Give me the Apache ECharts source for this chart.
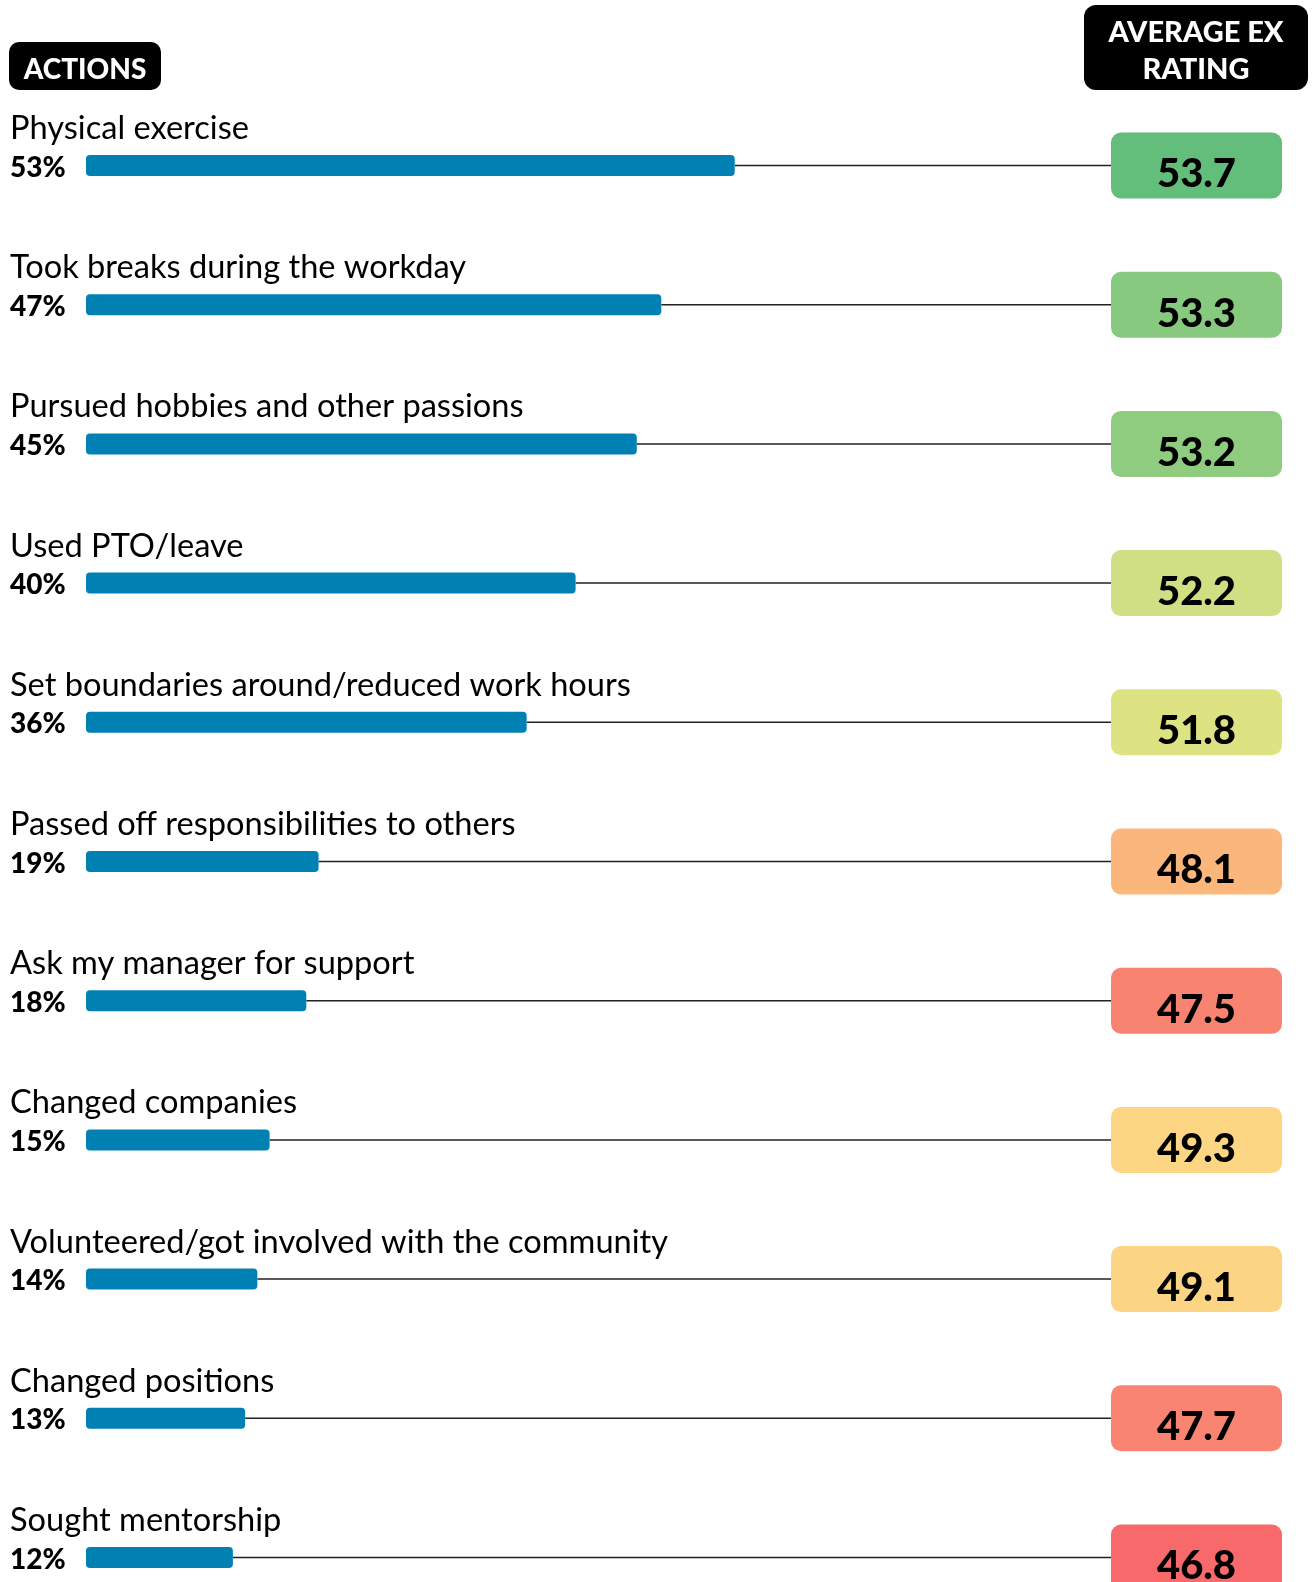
<!DOCTYPE html>
<html>
<head>
<meta charset="utf-8">
<script src="https://cdn.jsdelivr.net/npm/echarts@6/dist/echarts.min.js"></script>
<style>
  html, body { margin: 0; padding: 0; background: #ffffff; }
  #chart { width: 1315px; height: 1582px; }
</style>
</head>
<body>
<div id="chart"></div>
<script>
const categories = [
  'Physical exercise',
  'Took breaks during the workday',
  'Pursued hobbies and other passions',
  'Used PTO/leave',
  'Set boundaries around/reduced work hours',
  'Passed off responsibilities to others',
  'Ask my manager for support',
  'Changed companies',
  'Volunteered/got involved with the community',
  'Changed positions',
  'Sought mentorship'
];
const percentages = [53, 47, 45, 40, 36, 19, 18, 15, 14, 13, 12];
const ratings = [53.7, 53.3, 53.2, 52.2, 51.8, 48.1, 47.5, 49.3, 49.1, 47.7, 46.8];
const ratingColors = ['#63BE7B', '#86C97F', '#8FCC80', '#D0DF83', '#DDE283', '#FBB77B',
                      '#F98371', '#FCD683', '#FCD584', '#F98471', '#F8696B'];

const FONT = 'Lato, "Noto Sans", sans-serif';
const BOX_LEFT = 1111, BOX_W = 171, BOX_H = 66;

const chart = echarts.init(document.getElementById('chart'), null, { renderer: 'canvas' });

const customData = categories.map((c, i) => [percentages[i], i, ratings[i]]);

const option = {
  backgroundColor: '#ffffff',
  animation: false,
  grid: { left: 86, top: 165.5, width: 1224, height: 1392, containLabel: false },
  xAxis: {
    type: 'value', min: 0, max: 100,
    show: false
  },
  yAxis: {
    type: 'category', data: categories, inverse: true, boundaryGap: false,
    show: false
  },
  graphic: [
    {
      type: 'rect', left: 9, top: 42, z: 100,
      shape: { width: 152, height: 48, r: 10 },
      style: { fill: '#000000' }
    },
    {
      type: 'text', z: 101, x: 85, y: 70,
      style: { text: 'ACTIONS', fill: '#ffffff', font: '900 28px ' + FONT, align: 'center', verticalAlign: 'middle' }
    },
    {
      type: 'rect', left: 1084, top: 5, z: 100,
      shape: { width: 224, height: 85, r: 12 },
      style: { fill: '#000000' }
    },
    {
      type: 'text', z: 101, x: 1196, y: 33,
      style: { text: 'AVERAGE EX', fill: '#ffffff', font: '900 29px ' + FONT, align: 'center', verticalAlign: 'middle' }
    },
    {
      type: 'text', z: 101, x: 1196, y: 70,
      style: { text: 'RATING', fill: '#ffffff', font: '900 29px ' + FONT, align: 'center', verticalAlign: 'middle' }
    }
  ],
  series: [
    {
      type: 'custom',
      clip: false,
      z: 1,
      data: customData,
      encode: { x: 0, y: 1 },
      renderItem: function (params, api) {
        const idx = api.value(1);
        const end = api.coord([api.value(0), idx]);
        const cy = end[1];
        const r = api.value(2);
        return {
          type: 'group',
          children: [
            {
              type: 'line',
              shape: { x1: end[0], y1: cy, x2: BOX_LEFT, y2: cy },
              style: { stroke: '#222222', lineWidth: 1.5 }
            },
            {
              type: 'rect',
              shape: { x: BOX_LEFT, y: cy - BOX_H / 2, width: BOX_W, height: BOX_H, r: 10 },
              style: { fill: ratingColors[idx] }
            },
            {
              type: 'text',
              x: BOX_LEFT + BOX_W / 2, y: cy + 9,
              style: { text: r.toFixed(1), fill: '#000000', font: '900 40px ' + FONT, align: 'center', verticalAlign: 'middle' }
            },
            {
              type: 'text',
              x: 10, y: cy - 37,
              style: { text: categories[idx], fill: '#000000', font: '32.6px ' + FONT, align: 'left', verticalAlign: 'middle' }
            },
            {
              type: 'text',
              x: 10, y: cy + 2,
              style: { text: percentages[idx] + '%', fill: '#000000', font: '900 28px ' + FONT, align: 'left', verticalAlign: 'middle' }
            }
          ]
        };
      }
    },
    {
      type: 'bar',
      z: 2,
      data: percentages,
      barWidth: 21,
      itemStyle: { color: '#0080B3', borderRadius: 4 }
    }
  ]
};

chart.setOption(option);
</script>
</body>
</html>
